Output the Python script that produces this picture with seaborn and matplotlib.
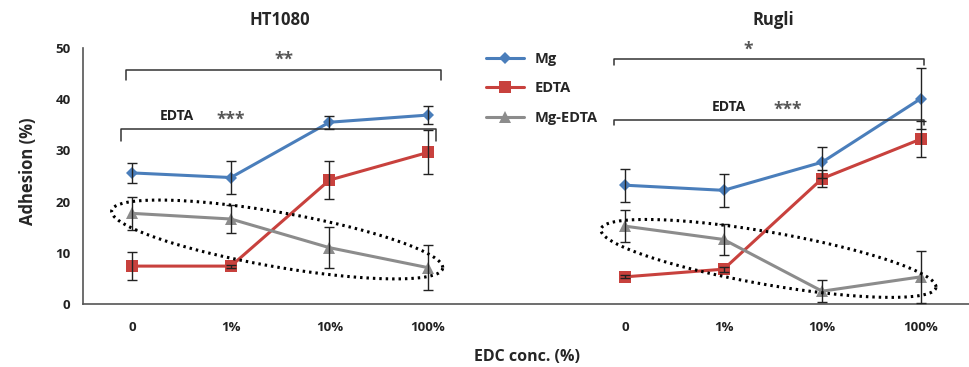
import numpy as np
import pandas as pd
import matplotlib
matplotlib.use("Agg")
import matplotlib.pyplot as plt
import seaborn as sns

# categories on one shared axis (blank slot separates the two cell lines)
tick_labels = ["0", "1%", "10%", "100%", "", "0", "1%", "10%", "100%"]
conc = ["0", "1%", "10%", "100%"]
cells = ["HT1080", "Rugli"]

# mean adhesion (%) and error
mg_ht = [25.6, 24.7, 35.5, 36.9]
mg_ht_err = [2.0, 3.2, 1.3, 1.8]
edta_ht = [7.4, 7.4, 24.2, 29.6]
edta_ht_err = [2.7, 0.3, 3.7, 4.3]
mgedta_ht = [17.7, 16.6, 11.0, 7.1]
mgedta_ht_err = [3.2, 2.8, 4.0, 4.4]

mg_ru = [23.2, 22.2, 27.7, 40.1]
mg_ru_err = [3.2, 3.2, 3.0, 6.0]
edta_ru = [5.3, 6.8, 24.5, 32.2]
edta_ru_err = [0.3, 0.5, 1.6, 3.5]
mgedta_ru = [15.2, 12.6, 2.5, 5.3]
mgedta_ru_err = [3.1, 3.0, 2.2, 5.1]

groups = ["Mg", "EDTA", "Mg-EDTA"]
colors = {"Mg": "#4a7ebb", "EDTA": "#c8413d", "Mg-EDTA": "#8c8c8c"}
markers = {"Mg": "D", "EDTA": "s", "Mg-EDTA": "^"}
msize = {"Mg": 6, "EDTA": 9, "Mg-EDTA": 9}

vals = {
    ("HT1080", "Mg"): (mg_ht, mg_ht_err),
    ("HT1080", "EDTA"): (edta_ht, edta_ht_err),
    ("HT1080", "Mg-EDTA"): (mgedta_ht, mgedta_ht_err),
    ("Rugli", "Mg"): (mg_ru, mg_ru_err),
    ("Rugli", "EDTA"): (edta_ru, edta_ru_err),
    ("Rugli", "Mg-EDTA"): (mgedta_ru, mgedta_ru_err),
}

rows = []
for ci, cell in enumerate(cells):
    for g in groups:
        m, e = vals[(cell, g)]
        for k in range(len(conc)):
            rows.append({"cell": cell, "group": g, "pos": ci * 5 + k,
                         "adhesion": m[k], "err": e[k]})
df = pd.DataFrame(rows)

sns.set_theme(style="white")
plt.rcParams["font.family"] = ["Open Sans", "DejaVu Sans"]

fig = plt.figure(figsize=(9.7, 3.67), dpi=100)
ax = fig.add_axes([0.0856, 0.1717, 0.9144, 0.6975])

for g in groups:
    sub = df[df["group"] == g]
    sns.lineplot(data=sub, x="pos", y="adhesion", units="cell", estimator=None,
                 color=colors[g], marker=markers[g], markersize=msize[g],
                 markeredgewidth=0, linewidth=2.2, ax=ax, label=None, zorder=2)
    ax.errorbar(sub["pos"], sub["adhesion"], yerr=sub["err"], fmt="none",
                ecolor="#222222", elinewidth=1.0, capsize=3.5, capthick=1.0,
                zorder=3)

# legend
handles = [plt.Line2D([], [], color=colors[g], marker=markers[g],
                      markersize=msize[g], markeredgewidth=0, linewidth=2.2)
           for g in groups]
leg = ax.legend(handles, groups, loc="upper left", bbox_to_anchor=(0.44, 1.035),
                frameon=False, handlelength=2.6, handletextpad=0.7,
                labelspacing=1.05, prop={"weight": "bold", "size": 10.5})

# significance brackets
def bracket(x0, x1, y, leg_y, stars, label=None, star_x=None, label_x=None):
    ax.plot([x0, x0, x1, x1], [leg_y, y, y, leg_y], color="#333333", lw=1.1,
            clip_on=False)
    sx = (x0 + x1) / 2 if star_x is None else star_x
    ax.text(sx, y + 0.2, stars, ha="center", va="bottom", fontsize=12.5,
            fontweight="bold", color="#555555")
    if label:
        ax.text(label_x, y + 1.3, label, ha="center", va="bottom", fontsize=10,
                fontweight="bold", color="#222222")

bracket(-0.06, 3.13, 45.8, 43.8, "**")
bracket(-0.11, 3.08, 34.1, 31.8, "***", "EDTA", star_x=1.0, label_x=0.45)
bracket(4.89, 8.03, 47.8, 46.6, "*", star_x=6.25)
bracket(4.89, 8.03, 35.9, 35.0, "***", "EDTA", star_x=6.65, label_x=6.05)

# dotted ellipses round the Mg-EDTA series
t = np.linspace(0, 2 * np.pi, 300)
for cx, cy, a, slope, b in [(1.47, 12.6, 1.68, -3.27, 5.4),
                            (6.455, 8.9, 1.70, -3.27, 5.2)]:
    ax.plot(cx + a * np.cos(t), cy + slope * a * np.cos(t) + b * np.sin(t),
            color="black", lw=2.2, linestyle=(0, (0.8, 1.3)), zorder=4,
            clip_on=False)

ax.set_xlim(-0.5, 8.5)
ax.set_ylim(0, 50)
ax.set_xticks(range(len(tick_labels)))
ax.set_xticklabels(tick_labels)
ax.set_yticks([0, 10, 20, 30, 40, 50])
for lab in ax.get_xticklabels() + ax.get_yticklabels():
    lab.set_fontweight("bold")
    lab.set_fontsize(9.5)
    lab.set_color("#222222")
ax.tick_params(axis="x", direction="out", length=3, width=1, color="#555555", pad=9)
ax.tick_params(axis="y", direction="out", length=5, width=1, color="#555555", pad=4)
ax.spines["top"].set_visible(False)
ax.spines["right"].set_visible(False)
for s in ["left", "bottom"]:
    ax.spines[s].set_color("#555555")
    ax.spines[s].set_linewidth(1.2)

ax.set_xlabel("EDC conc. (%)", fontsize=11.5, fontweight="bold", labelpad=11)
ax.set_ylabel("Adhesion (%)", fontsize=12, fontweight="bold")
ax.yaxis.set_label_coords(-0.052, 0.52)
for ci, cell in enumerate(cells):
    ax.text(ci * 5 + 1.5, 1.11, cell, transform=ax.get_xaxis_transform(),
            ha="center", va="center", fontsize=12, fontweight="bold")

fig.savefig("out.png", dpi=100)
